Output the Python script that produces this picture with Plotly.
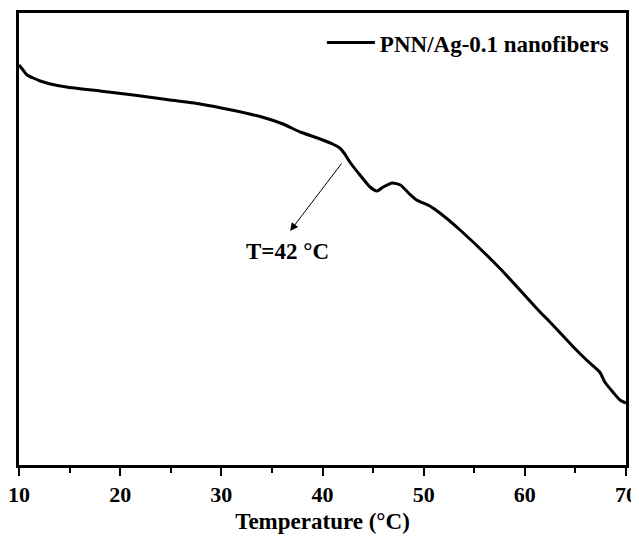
import plotly.graph_objects as go

# Temperature (°C) and signal (arbitrary units)
temperature = [10.0, 10.4, 10.8, 11.4, 12.1, 13.1, 14.7, 18.0, 21.3, 24.6, 27.9,
               31.0, 34.0, 36.1, 37.8, 39.5, 41.0, 41.7, 42.2, 42.7, 43.7, 44.7, 45.4,
               46.0, 46.9, 47.7, 48.6, 49.3, 50.6, 51.6, 53.6, 57.5, 61.5, 62.2,
               64.8, 66.1, 67.4, 67.9, 68.7, 69.4, 70.0]
signal = [400, 395, 390, 387, 384, 381, 378, 374, 370, 365.5, 361,
          355, 348, 341, 333, 327, 321, 317, 311, 303, 290, 278, 274,
          278, 282, 280, 271, 265, 259, 252, 235, 197, 153, 146,
          118, 105, 93, 83, 73, 65, 62]

series_name = "PNN/Ag-0.1 nanofibers"
x_ticks = [10, 20, 30, 40, 50, 60, 70]
annot_text = "T=42 °C"
arrow_tail = (42.0, 303)
arrow_head = (36.8, 234)
text_pos = (36.5, 214)

font = "Liberation Serif"
FS = 23
TFS = 22

fig = go.Figure()
fig.add_trace(go.Scatter(x=temperature, y=signal, mode="lines", name="<b>" + series_name + "</b>",
                         line=dict(color="black", width=3, shape="spline", smoothing=0.6)))

fig.add_annotation(x=arrow_head[0], y=arrow_head[1], ax=arrow_tail[0], ay=arrow_tail[1],
                   xref="x", yref="y", axref="x", ayref="y", text="",
                   showarrow=True, arrowhead=2, arrowsize=1.6, arrowwidth=1, arrowcolor="black")
fig.add_annotation(x=text_pos[0], y=text_pos[1], xref="x", yref="y", text="<b>" + annot_text + "</b>",
                   showarrow=False, font=dict(family=font, size=FS, color="black"))

# the page body adds an 8px offset; compensate so the plot area sits at 19..626 x 13..465
fig.update_layout(
    width=631, height=526,
    margin=dict(l=11, r=13, t=5, b=69, autoexpand=False),
    paper_bgcolor="white", plot_bgcolor="white",
    showlegend=True,
    legend=dict(x=0.980, y=0.982, xanchor="right", yanchor="top",
                bgcolor="rgba(0,0,0,0)", borderwidth=0,
                font=dict(family=font, size=FS, color="black"), itemwidth=48),
    font=dict(family=font, color="black"),
)
fig.update_xaxes(range=[10, 70], tickvals=x_ticks, ticktext=["<b>%d</b>" % v for v in x_ticks],
                 ticks="outside", ticklen=8, tickwidth=2, tickcolor="black",
                 minor=dict(dtick=5, tick0=10, ticks="outside", ticklen=5, tickwidth=2, tickcolor="black"),
                 showline=True, linewidth=3, linecolor="black", mirror=True,
                 showgrid=False, zeroline=False, automargin=False,
                 tickfont=dict(family=font, size=TFS, color="black"),
                 title=dict(text="<b>Temperature (°C)</b>", font=dict(family=font, size=FS, color="black"),
                            standoff=12))
fig.update_yaxes(range=[0, 452], showticklabels=False, ticks="",
                 showline=True, linewidth=3, linecolor="black", mirror=True,
                 showgrid=False, zeroline=False, automargin=False)

fig.write_html("out.html")
